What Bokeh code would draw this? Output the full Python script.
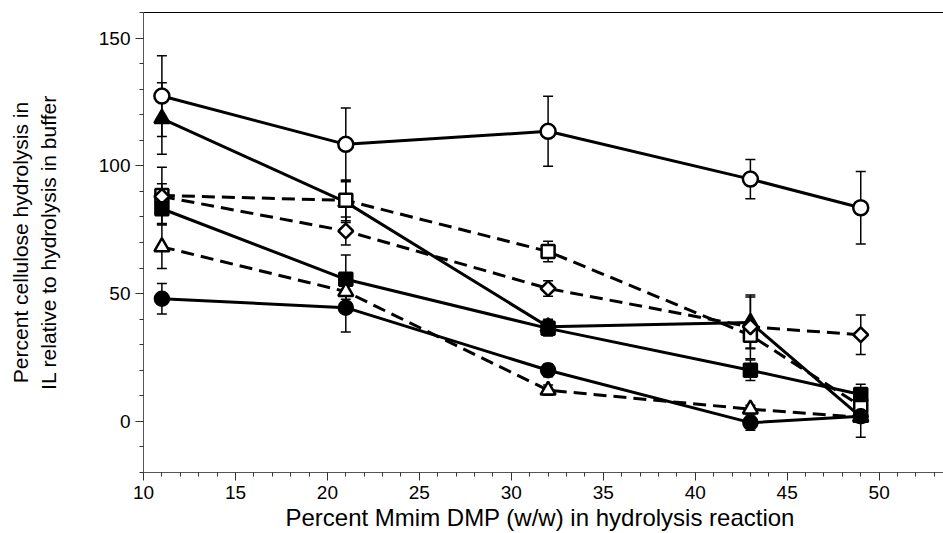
import math
from bokeh.plotting import figure
from bokeh.models import (ColumnDataSource, Whisker, TeeHead, LinearAxis,
                          FixedTicker, SingleIntervalTicker, Range1d)
from bokeh.embed import file_html
from bokeh.resources import INLINE

# ---- data ----
x_pct = [11, 21, 32, 43, 49]

open_circle = [127.3, 108.4, 113.5, 94.8, 83.6]
open_circle_err = [15.8, 14.2, 13.7, 7.7, 14.2]

filled_triangle = [118.5, 85.8, 37.0, 38.7, 1.8]
filled_triangle_err = [14.0, 8.0, 3.0, 10.0, 8.0]

open_square = [88.4, 86.5, 66.5, 33.7, 6.0]
open_square_err = [11.0, 8.0, 4.0, 5.3, 3.0]

open_diamond = [88.0, 74.5, 52.0, 37.0, 33.9]
open_diamond_err = [5.0, 5.5, 3.0, 12.5, 7.7]

filled_square = [83.2, 55.6, 36.4, 20.0, 10.5]
filled_square_err = [6.0, 9.5, 3.0, 4.0, 4.0]

open_triangle = [68.3, 50.8, 12.2, 4.8, 1.6]
open_triangle_err = [8.5, 3.0, 2.0, 1.5, 2.0]

filled_circle = [48.0, 44.5, 20.0, -0.5, 2.0]
filled_circle_err = [6.0, 9.5, 2.5, 3.0, 2.0]

x_label = "Percent Mmim DMP (w/w) in hydrolysis  reaction"
y_label = "Percent cellulose hydrolysis in\nIL relative to hydrolysis in buffer"

FONT = "Liberation Sans"

p = figure(width=943, height=533, output_backend="svg", toolbar_location=None,
           x_range=Range1d(10, 53.5), y_range=Range1d(-20, 160),
           min_border_left=143, min_border_right=0, min_border_top=12,
           min_border_bottom=61)
p.outline_line_color = None
p.xgrid.visible = False
p.ygrid.visible = False
p.background_fill_color = "white"
p.border_fill_color = "white"

# axes
p.xaxis.ticker = SingleIntervalTicker(interval=5, num_minor_ticks=5)
p.yaxis.ticker = SingleIntervalTicker(interval=50, num_minor_ticks=5)
for ax in (p.xaxis[0], p.yaxis[0]):
    ax.axis_line_color = "#555555"
    ax.axis_line_width = 1
    ax.major_tick_line_color = "#333333"
    ax.minor_tick_line_color = "#333333"
    ax.major_tick_in = 0
    ax.minor_tick_in = 0
    ax.major_tick_out = 8
    ax.minor_tick_out = 4
    ax.major_label_text_font = FONT
    ax.major_label_text_font_size = "19px"
    ax.major_label_text_color = "black"
    ax.axis_label_text_font = FONT
    ax.axis_label_text_font_style = "normal"
    ax.axis_label_text_color = "black"
p.xaxis.axis_label = x_label
p.yaxis.axis_label = y_label
p.xaxis.axis_label_text_font_size = "24px"
p.yaxis.axis_label_text_font_size = "21px"
p.xaxis.major_label_standoff = 5
p.yaxis.major_label_standoff = 5
p.xaxis.axis_label_standoff = 2
p.yaxis.axis_label_standoff = 36

top = LinearAxis(ticker=FixedTicker(ticks=[]), axis_line_color="black",
                 axis_line_width=1.2, major_tick_line_color=None,
                 minor_tick_line_color=None, major_label_text_font_size="0px")
p.add_layout(top, "above")

# (values, errors, marker, fill, size, angle, dashed)
series = [
    (open_circle, open_circle_err, "circle", "white", 15, 0.0, False),
    (filled_triangle, filled_triangle_err, "triangle", "black", 15, 0.0, False),
    (open_square, open_square_err, "square", "white", 13, 0.0, True),
    (open_diamond, open_diamond_err, "square", "white", 10.5, math.pi / 4, True),
    (filled_square, filled_square_err, "square", "black", 13, 0.0, False),
    (open_triangle, open_triangle_err, "triangle", "white", 15, 0.0, True),
    (filled_circle, filled_circle_err, "circle", "black", 14, 0.0, False),
]

for vals, errs, marker, fill, size, ang, dashed in series:
    src = ColumnDataSource(dict(
        x=x_pct, y=vals,
        upper=[v + e for v, e in zip(vals, errs)],
        lower=[v - e for v, e in zip(vals, errs)],
    ))
    w = Whisker(base="x", upper="upper", lower="lower", source=src,
                line_color="black", line_width=1.5,
                upper_head=TeeHead(size=10, line_width=1.5, line_color="black"),
                lower_head=TeeHead(size=10, line_width=1.5, line_color="black"))
    p.add_layout(w)

for vals, errs, marker, fill, size, ang, dashed in series:
    src = ColumnDataSource(dict(x=x_pct, y=vals))
    p.line("x", "y", source=src, line_color="black", line_width=3,
           line_dash=("13 7" if dashed else "solid"))

for vals, errs, marker, fill, size, ang, dashed in series:
    src = ColumnDataSource(dict(x=x_pct, y=vals))
    p.scatter("x", "y", source=src, marker=marker, size=size, angle=ang,
              fill_color=fill, line_color="black", line_width=2.5)

open("out.html", "w").write(file_html(p, INLINE))
